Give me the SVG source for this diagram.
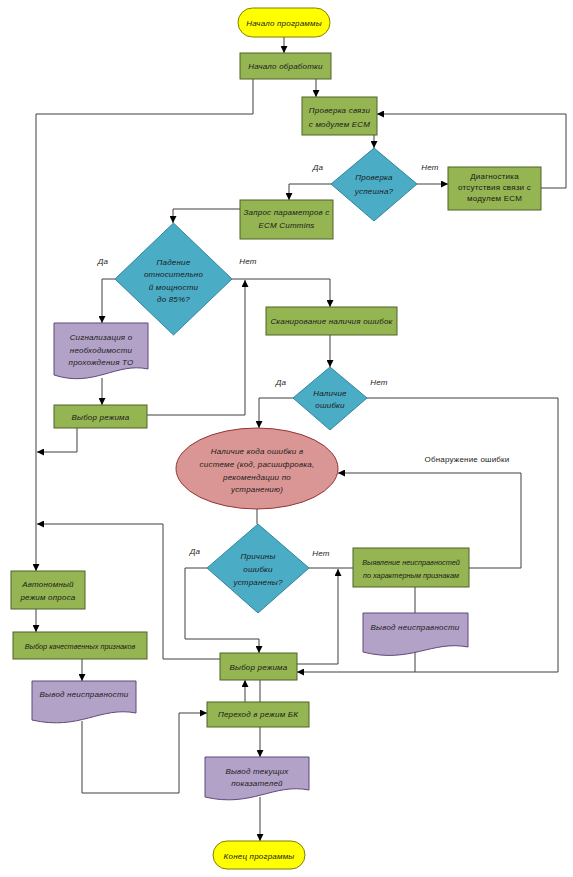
<svg xmlns="http://www.w3.org/2000/svg" width="573" height="877" viewBox="0 0 573 877">
<defs>
<marker id="ah" viewBox="0 0 10 10" refX="10" refY="5" markerWidth="7" markerHeight="7" markerUnits="userSpaceOnUse" orient="auto">
<path d="M0,0 L10,5 L0,10 Z" fill="#000"/>
</marker>
<style>
.t{font-family:"Liberation Sans",Arial,sans-serif;font-size:8px;font-style:italic;fill:#1a1a1a;text-anchor:middle;letter-spacing:0.2px}
.u{font-style:normal}
.s{font-size:7.3px;letter-spacing:0}
.g{fill:#94b552;stroke:#4f6228;stroke-width:1}
.b{fill:#4bacc6;stroke:#31859c;stroke-width:1}
.p{fill:#b3a2c7;stroke:#5f497a;stroke-width:1}
.r{fill:#d99694;stroke:#943634;stroke-width:1}
.y{fill:#ffff00;stroke:#7f7f00;stroke-width:1}
.c path{fill:none;stroke:#3f3f3f;stroke-width:1}
.c path.a{marker-end:url(#ah)}
</style>
</defs>
<rect width="573" height="877" fill="#fff"/>
<g class="c" id="connectors">
<path class="a" d="M284,37 V53"/>
<path class="a" d="M253,79 V114 H36 V571"/>
<path class="a" d="M316,79 V97"/>
<path class="a" d="M374,135 V148"/>
<path class="a" d="M331,184 H289 V200"/>
<path class="a" d="M417,184 H448"/>
<path class="a" d="M541,188 H566 V114 H377"/>
<path class="a" d="M240,209 H173 V223"/>
<path class="a" d="M115,279 H102 V323"/>
<path class="a" d="M102,378 V405"/>
<path class="a" d="M147,415 H245 V280"/>
<path class="a" d="M232,279 H330 V307"/>
<path class="a" d="M330,335 V367"/>
<path class="a" d="M293,398 H259 V428"/>
<path class="a" d="M367,398 H558 V672 H297"/>
<path class="a" d="M77,428 V452 H37"/>
<path d="M257,509 V524"/>
<path class="a" d="M207,568 H185 V639 H259 V653"/>
<path d="M309,568 H353"/>
<path class="a" d="M297,664 H338 V569"/>
<path class="a" d="M469,568 H521 V473 H338"/>
<path d="M415,587 V613"/>
<path d="M415,652 V672"/>
<path class="a" d="M220,659 H163 V524 H37"/>
<path class="a" d="M36,609 V632"/>
<path class="a" d="M82,659 V681"/>
<path class="a" d="M82,721 V793 H179 V713 H207"/>
<path class="a" d="M245,702 V680"/>
<path d="M260,680 V702"/>
<path class="a" d="M260,727 V757"/>
<path class="a" d="M260,797 V841"/>
</g>
<g id="start"><rect class="y" x="238" y="8" width="92" height="29" rx="14.5"/><text class="t" x="284" y="26">Начало программы</text></g>
<g id="n_obr"><rect class="g" x="240" y="53" width="91" height="26"/><text class="t" x="285.5" y="69">Начало обработки</text></g>
<g id="n_prov"><rect class="g" x="302" y="97" width="75" height="38"/><text class="t" x="339.5" y="113">Проверка связи</text><text class="t" x="339.5" y="127">с модулем ECM</text></g>
<g id="d_usp"><path class="b" d="M331,184 L374,148 L417,184 L374,221 Z"/><text class="t" x="374" y="180">Проверка</text><text class="t" x="374" y="194">успешна?</text></g>
<text class="t" x="318" y="170">Да</text>
<text class="t" x="430" y="170">Нет</text>
<g id="n_diag"><rect class="g" x="448" y="167" width="93" height="43"/><text class="t u" x="494.5" y="179">Диагностика</text><text class="t u" x="494.5" y="190">отсутствия связи с</text><text class="t u" x="494.5" y="201">модулем  ECM</text></g>
<g id="n_zapr"><rect class="g" x="240" y="200" width="93" height="39"/><text class="t" x="286.5" y="215">Запрос параметров с</text><text class="t" x="286.5" y="228">ECM Cummins</text></g>
<g id="d_pad"><path class="b" d="M115,279 L173.5,223 L232,279 L173.5,335 Z"/><text class="t" x="173.5" y="265">Падение</text><text class="t" x="173.5" y="277">относительно</text><text class="t" x="173.5" y="290">й мощности</text><text class="t" x="173.5" y="302">до 85%?</text></g>
<text class="t" x="103" y="264">Да</text>
<text class="t" x="248" y="264">Нет</text>
<g id="n_sign"><path class="p" d="M54,323 H148 V369 C116,362 94,388 54,375 Z"/><text class="t" x="101" y="340">Сигнализация о</text><text class="t" x="101" y="353">необходимости</text><text class="t" x="101" y="365">прохождения ТО</text></g>
<g id="n_vyb1"><rect class="g" x="54" y="405" width="93" height="23"/><text class="t" x="100.5" y="420">Выбор режима</text></g>
<g id="n_scan"><rect class="g" x="266" y="307" width="131" height="28"/><text class="t" x="331.5" y="324">Сканирование наличия ошибок</text></g>
<g id="d_nal"><path class="b" d="M293,398 L330,367 L367,398 L330,430 Z"/><text class="t" x="330" y="396">Наличие</text><text class="t" x="330" y="408">ошибки</text></g>
<text class="t" x="281" y="385">Да</text>
<text class="t" x="379" y="385">Нет</text>
<g id="n_kod"><ellipse class="r" cx="257" cy="468.5" rx="81" ry="40.5"/><text class="t" x="257" y="454">Наличие кода ошибки в</text><text class="t" x="257" y="467">системе (код, расшифровка,</text><text class="t" x="257" y="480">рекомендации по</text><text class="t" x="257" y="492">устранению)</text></g>
<text class="t u" x="467" y="462">Обнаружение ошибки</text>
<g id="d_prich"><path class="b" d="M207,568 L258,524 L309,568 L258,613 Z"/><text class="t" x="258" y="559">Причины</text><text class="t" x="258" y="572">ошибки</text><text class="t" x="258" y="585">устранены?</text></g>
<text class="t" x="195" y="554">Да</text>
<text class="t" x="321" y="556">Нет</text>
<g id="n_vyyav"><rect class="g" x="353" y="548" width="116" height="39"/><text class="t s" x="411" y="565">Выявление неисправностей</text><text class="t s" x="411" y="578">по характерным признакам</text></g>
<g id="n_vyv2"><path class="p" d="M363,613 H468 V647 C432,640 410,664 363,652 Z"/><text class="t" x="415" y="630">Вывод неисправности</text></g>
<g id="n_vyb2"><rect class="g" x="220" y="653" width="77" height="27"/><text class="t" x="258.5" y="670">Выбор режима</text></g>
<g id="n_avt"><rect class="g" x="11" y="571" width="74" height="38"/><text class="t" x="48" y="587">Автономный</text><text class="t" x="48" y="600">режим опроса</text></g>
<g id="n_kach"><rect class="g" x="13" y="632" width="134" height="27"/><text class="t s" x="80" y="649">Выбор качественных признаков</text></g>
<g id="n_vyv1"><path class="p" d="M32,681 H136 V713 C100,706 80,731 32,720 Z"/><text class="t" x="84" y="697">Вывод неисправности</text></g>
<g id="n_per"><rect class="g" x="207" y="702" width="102" height="25"/><text class="t" x="258" y="717">Переход в режим БК</text></g>
<g id="n_tek"><path class="p" d="M205,757 H309 V790 C273,783 252,808 205,797 Z"/><text class="t" x="257" y="774">Вывод текущих</text><text class="t" x="257" y="786">показателей</text></g>
<g id="end"><rect class="y" x="213" y="841" width="92" height="28" rx="14"/><text class="t" x="259" y="859">Конец программы</text></g>
</svg>
